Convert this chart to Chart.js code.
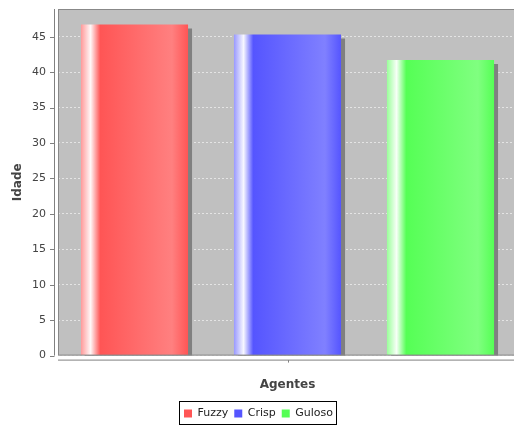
<!DOCTYPE html>
<html>
<head>
<meta charset="utf-8">
<script src="https://cdn.jsdelivr.net/npm/chart.js@4.4.1/dist/chart.umd.min.js"></script>
<style>
  html, body { margin: 0; padding: 0; background: #fff; overflow: hidden; }
  #wrap { width: 525px; height: 425px; }
</style>
</head>
<body>
<div id="wrap"><canvas id="chartCanvas" width="525" height="425"></canvas></div>
<script>
// chart values
var categories = [''];
var seriesNames = ['Fuzzy', 'Crisp', 'Guloso'];
var seriesValues = [46.7, 45.3, 41.7];
var seriesColors = ['#ff5555', '#5555ff', '#55ff55'];
var yTicks = [0, 5, 10, 15, 20, 25, 30, 35, 40, 45];
var yMax = 48.9;

function lighter(hex, amt) {
	var r = parseInt(hex.substr(1, 2), 16), g = parseInt(hex.substr(3, 2), 16), b = parseInt(hex.substr(5, 2), 16);
	r = Math.round(r + (255 - r) * amt); g = Math.round(g + (255 - g) * amt); b = Math.round(b + (255 - b) * amt);
	return 'rgb(' + r + ',' + g + ',' + b + ')';
}

var datasets = [];
for (var i in seriesNames) {
	datasets.push({
		label: seriesNames[i],
		data: [seriesValues[i]],
		backgroundColor: seriesColors[i],
		borderWidth: 0
	});
}

// gray plot background + outline
var plotBg = {
	id: 'plotBg',
	beforeDraw: function(chart) {
		var a = chart.chartArea, c = chart.ctx;
		c.save();
		c.fillStyle = '#c0c0c0';
		c.fillRect(a.left, a.top, a.right - a.left, a.bottom - a.top);
		c.restore();
	},
	beforeDatasetsDraw: function(chart) {
		var c = chart.ctx;
		// gradient on each bar, like the java bar painter
		chart.data.datasets.forEach(function(ds, di) {
			var meta = chart.getDatasetMeta(di);
			meta.data.forEach(function(el) {
				var x0 = el.x - el.width / 2, x1 = el.x + el.width / 2;
				var base = seriesColors[di];
				var g = c.createLinearGradient(x0, 0, x1, 0);
				g.addColorStop(0, lighter(base, 0.4));
				g.addColorStop(0.09, lighter(base, 0.95));
				g.addColorStop(0.18, base);
				g.addColorStop(0.85, lighter(base, 0.25));
				g.addColorStop(1, base);
				el.options.backgroundColor = g;
			});
		});
		c.save();
		c.shadowColor = '#808080';
		c.shadowOffsetX = 4;
		c.shadowOffsetY = 4;
		c.shadowBlur = 0;
	},
	afterDatasetsDraw: function(chart) {
		var a = chart.chartArea, c = chart.ctx;
		c.restore();
		c.save();
		c.strokeStyle = '#888888';
		c.lineWidth = 1;
		c.strokeRect(a.left + 0.5, a.top + 0.5, a.right - a.left - 1, a.bottom - a.top - 1);
		// axis lines sit a few pixels off the plot
		c.strokeStyle = '#808080';
		c.beginPath();
		c.moveTo(a.left - 3.5, a.top);
		c.lineTo(a.left - 3.5, a.bottom);
		var ys = chart.scales.y;
		yTicks.forEach(function(t) {
			var py = Math.round(ys.getPixelForValue(t)) + 0.5;
			c.moveTo(a.left - 8, py);
			c.lineTo(a.left - 3.5, py);
		});
		c.moveTo(a.left, a.bottom + 4.5);
		c.lineTo(a.right, a.bottom + 4.5);
		var mx = Math.round((a.left + a.right) / 2) + 0.5;
		c.moveTo(mx, a.bottom + 4.5);
		c.lineTo(mx, a.bottom + 7);
		c.stroke();
		c.restore();
	},
	afterDraw: function(chart) {
		var boxes = chart.legend.legendHitBoxes, c = chart.ctx;
		if (!boxes || !boxes.length) return;
		var l = 1e9, r = -1e9, t = 1e9, b = -1e9;
		boxes.forEach(function(h) {
			l = Math.min(l, h.left); r = Math.max(r, h.left + h.width);
			t = Math.min(t, h.top); b = Math.max(b, h.top + h.height);
		});
		c.save();
		c.strokeStyle = '#000';
		c.lineWidth = 1;
		c.strokeRect(Math.round(l) - 4.5, Math.round(t) - 6.5, Math.round(r - l) + 8, Math.round(b - t) + 12);
		c.restore();
	}
};

var ctx = document.getElementById('chartCanvas');

var barGraph = new Chart(ctx, {
	type: 'bar',
	data: { labels: categories, datasets: datasets },
	plugins: [plotBg],
	options: {
		responsive: false,
		animation: false,
		layout: { padding: { top: 9, right: 8, left: 0, bottom: -4 } },
		datasets: { bar: { categoryPercentage: 1.0, barPercentage: 0.7 } },
		plugins: {
			tooltip: { enabled: false },
			legend: {
				position: 'bottom',
				labels: {
					font: { family: 'DejaVu Sans', size: 11 },
					color: '#222',
					boxWidth: 8,
					boxHeight: 8,
					padding: 6
				}
			}
		},
		scales: {
			x: {
				grid: { display: false, drawTicks: false },
				border: { display: false },
				ticks: { display: false },
				title: {
					display: true,
					text: 'Agentes',
					font: { family: 'DejaVu Sans', size: 12, weight: 'bold' },
					color: '#444',
					padding: { top: 22, bottom: 10 }
				}
			},
			y: {
				min: 0,
				max: yMax,
				afterBuildTicks: function(scale) {
					scale.ticks = yTicks.map(function(v) { return { value: v }; });
				},
				afterFit: function(scale) {
					scale.width = 58;
					scale.paddingTop = 0;
					scale.paddingBottom = 0;
				},
				grid: { color: 'rgba(240,240,240,0.75)', lineWidth: 1, drawTicks: false },
				border: { display: false, dash: [2, 2] },
				ticks: {
					font: { family: 'DejaVu Sans', size: 11 },
					color: '#444',
					padding: 12
				},
				title: {
					display: true,
					text: 'Idade',
					font: { family: 'DejaVu Sans', size: 12, weight: 'bold' },
					color: '#444',
					padding: { top: 11, bottom: 0 }
				}
			}
		}
	}
});
</script>
</body>
</html>
